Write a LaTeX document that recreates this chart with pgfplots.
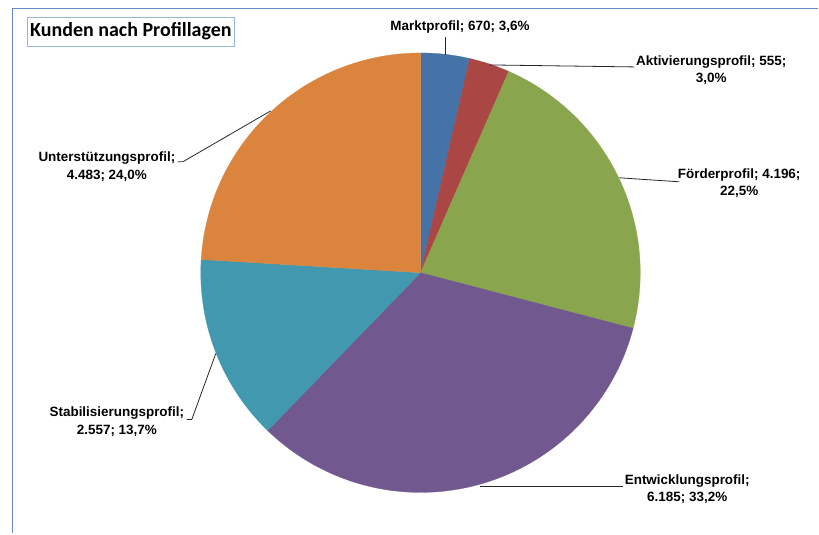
\documentclass[border=0pt]{standalone}
\usepackage{pgfplots}
\pgfplotsset{compat=1.18}
\usepackage{fontspec}
\setmainfont{Liberation Sans}
\newfontfamily\titlefont{Carlito}

\definecolor{cMarkt}{HTML}{4572A7}
\definecolor{cAktiv}{HTML}{AA4643}
\definecolor{cFoerder}{HTML}{89A54E}
\definecolor{cEntw}{HTML}{71588F}
\definecolor{cStab}{HTML}{4198AF}
\definecolor{cUnter}{HTML}{DB843D}
\definecolor{frameblue}{RGB}{100,140,200}
\definecolor{titleblue}{RGB}{150,180,220}

\begin{document}
\begin{tikzpicture}
\begin{axis}[scale only axis,width=614.25pt,height=400.5pt,
  xmin=0,xmax=819,ymin=0,ymax=534,y dir=reverse,
  hide axis,clip=false]
% pie: Kunden je Profillage (in Tausend), clockwise from 12 o'clock, centre (421,273), r=220
\pgfmathsetmacro\tot{18.646}
\def\cum{0}
\pgfplotsforeachungrouped \v/\c in {0.670/cMarkt,0.555/cAktiv,4.196/cFoerder,6.185/cEntw,2.557/cStab,4.483/cUnter}{%
  \pgfmathsetmacro\a{90-360*\cum/\tot}%
  \pgfmathsetmacro\cum{\cum+\v}%
  \pgfmathsetmacro\b{90-360*\cum/\tot}%
  \edef\temp{\noexpand\addplot[fill=\c,draw=\c,line width=0.2pt,domain=\b:\a,samples=80]
    ({421+220*cos(x)},{273-220*sin(x)}) -- (axis cs:421,273) -- cycle;}%
  \temp
}
\path (axis cs:0,0) rectangle (axis cs:819,534);
% chart frame
\draw[frameblue,line width=1.4pt] (axis cs:12.5,534) -- (axis cs:12.5,8.5) -- (axis cs:819,8.5);
% title
\node[draw=titleblue,line width=0.6pt,inner xsep=2.2pt,inner ysep=0pt,minimum height=21.75pt,
  font=\titlefont\bfseries\fontsize{15}{17}\selectfont]
  at (axis cs:131,31.5) {Kunden nach Profillagen};
% leader lines
\begin{scope}[black!85,line width=0.6pt]
\draw (axis cs:446,55) -- (axis cs:446,37);
\draw (axis cs:490,65) -- (axis cs:635,67);
\draw (axis cs:620,178) -- (axis cs:680,182);
\draw (axis cs:481,487) -- (axis cs:624,487);
\draw (axis cs:216,354) -- (axis cs:192,420) -- (axis cs:187,420);
\draw (axis cs:271,111) -- (axis cs:183,162) -- (axis cs:178,162);
\end{scope}
% data labels
\begin{scope}[every node/.style={font=\bfseries\fontsize{10.1}{13}\selectfont,align=center,inner sep=0pt}]
\node at (axis cs:460.5,27) {Marktprofil; 670; 3,6\%};
\node at (axis cs:712,70) {Aktivierungsprofil; 555;\\3,0\%};
\node at (axis cs:740,183.5) {Förderprofil; 4.196;\\22,5\%};
\node at (axis cs:688,489.5) {Entwicklungsprofil;\\6.185; 33,2\%};
\node at (axis cs:117,422) {Stabilisierungsprofil;\\2.557; 13,7\%};
\node at (axis cs:107,167) {Unterstützungsprofil;\\4.483; 24,0\%};
\end{scope}
\end{axis}
\end{tikzpicture}
\end{document}
